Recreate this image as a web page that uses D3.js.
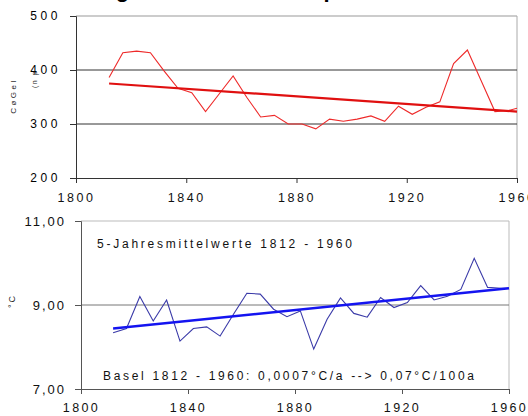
<!DOCTYPE html>
<html><head><meta charset="utf-8">
<script src="https://cdn.jsdelivr.net/npm/d3@7/dist/d3.min.js"></script>
<style>
html,body{margin:0;padding:0;background:#fff;}
svg{display:block;font-family:"Liberation Sans",Arial,sans-serif;}
</style></head>
<body>
<svg id="c" width="528" height="416"></svg>
<script>
// ---- data ----
const years = [1812,1817,1822,1827,1832,1837,1842,1847,1852,1857,1862,1867,1872,1877,1882,1887,1892,1897,1902,1907,1912,1917,1922,1927,1932,1937,1942,1947,1952,1957,1960];
const precip = [386,432,435,432,398,366,358,323,356,389,349,313,316,300,300,291,309,305,309,315,305,333,318,331,341,412,437,380,323,325,329];
const temp = [8.34,8.44,9.20,8.62,9.12,8.14,8.44,8.48,8.26,8.78,9.28,9.26,8.90,8.72,8.86,7.95,8.66,9.17,8.80,8.71,9.18,8.94,9.06,9.46,9.12,9.21,9.37,10.11,9.42,9.40,9.40];
const trendYears = [1812,1960];
const trendPrecip = [375,323];
const trendTemp = [8.44,9.40];
const xTicks = [1800,1840,1880,1920,1960];
const precipTicks = [200,300,400,500];
const tempTicks = [7,9,11];
const titleParts = ["Niederschlag","und","Temperatur"];
const topYLabel = ["CøGel","(n p"];
const bottomYLabel = "°C";
const note1 = "5-Jahresmittelwerte 1812 - 1960";
const note2 = "Basel 1812 - 1960: 0,0007°C/a --> 0,07°C/100a";

const svg = d3.select("#c");

// title (cropped at top, as in the reference)
const title = svg.append("text").attr("y",-3).attr("font-size",22).attr("font-weight","bold").attr("fill","#000");
title.append("tspan").attr("x",-9).text(titleParts[0]);
title.append("tspan").attr("x",180).text(titleParts[1]);
title.append("tspan").attr("x",280).text(titleParts[2]);

// ---------- top chart ----------
const T = {l:76, r:517, t:16, b:178};
const xT = d3.scaleLinear().domain([1800,1960]).range([T.l,T.r]);
const yT = d3.scaleLinear().domain([200,500]).range([T.b,T.t]);
const gT = svg.append("g");

gT.append("line").attr("x1",T.l).attr("x2",T.r).attr("y1",T.t).attr("y2",T.t).attr("stroke","#999");
gT.append("line").attr("x1",T.r).attr("x2",T.r).attr("y1",T.t).attr("y2",T.b).attr("stroke","#aaa");
gT.selectAll(".grid").data([300,400]).join("line")
  .attr("x1",T.l).attr("x2",T.r).attr("y1",d=>yT(d)).attr("y2",d=>yT(d)).attr("stroke","#333");

const axLT = gT.append("g").attr("transform",`translate(${T.l},0)`)
  .call(d3.axisLeft(yT).tickValues(precipTicks).tickSize(6).tickFormat(d=>d));
axLT.select(".domain").attr("stroke","#333");
axLT.selectAll(".tick line").attr("stroke","#333");
axLT.selectAll(".tick text").attr("x",-15).attr("font-size",12).attr("letter-spacing","3.6px").attr("fill","#000").attr("font-family","Liberation Sans, Arial, sans-serif");

const axBT = gT.append("g").attr("transform",`translate(0,${T.b})`)
  .call(d3.axisBottom(xT).tickValues(xTicks).tickSize(5).tickFormat(d=>d));
axBT.select(".domain").attr("stroke","#333");
axBT.selectAll(".tick line").attr("stroke","#333");
axBT.selectAll(".tick text").attr("y",15).attr("font-size",12.5).attr("letter-spacing","2.5px").attr("fill","#111").attr("font-family","Liberation Sans, Arial, sans-serif");

const lineT = d3.line().x((d,i)=>xT(years[i])).y(d=>yT(d));
gT.append("path").datum(precip).attr("d",lineT).attr("fill","none").attr("stroke","#ee2a2a").attr("stroke-width",1.1);
gT.append("path").datum(trendPrecip).attr("d",d3.line().x((d,i)=>xT(trendYears[i])).y(d=>yT(d)))
  .attr("fill","none").attr("stroke","#e01010").attr("stroke-width",2.2);

svg.append("text").attr("transform","translate(16,96) rotate(-90)").attr("text-anchor","middle")
  .attr("font-size",8).attr("letter-spacing","2.5px").attr("fill","#222").text(topYLabel[0]);
svg.append("text").attr("transform","translate(37,79) rotate(-90)").attr("text-anchor","middle")
  .attr("font-size",7).attr("letter-spacing","1.5px").attr("fill","#222").text(topYLabel[1]);

// ---------- bottom chart ----------
const B = {l:81, r:509, t:221, b:389};
const xB = d3.scaleLinear().domain([1800,1960]).range([B.l,B.r]);
const yB = d3.scaleLinear().domain([7,11]).range([B.b,B.t]);
const gB = svg.append("g");

gB.append("line").attr("x1",B.l).attr("x2",B.r).attr("y1",B.t).attr("y2",B.t).attr("stroke","#bbb");
gB.append("line").attr("x1",B.r).attr("x2",B.r).attr("y1",B.t).attr("y2",B.b).attr("stroke","#bbb");
gB.append("line").attr("x1",B.l).attr("x2",B.r).attr("y1",yB(9)).attr("y2",yB(9)).attr("stroke","#777");

const fmt = d=>d3.format(".2f")(d).replace(".",",");
const axLB = gB.append("g").attr("transform",`translate(${B.l},0)`)
  .call(d3.axisLeft(yB).tickValues(tempTicks).tickSize(6).tickFormat(fmt));
axLB.select(".domain").attr("stroke","#555");
axLB.selectAll(".tick line").attr("stroke","#555");
axLB.selectAll(".tick text").attr("x",-15).attr("font-size",13).attr("letter-spacing","2px").attr("fill","#111").attr("font-family","Liberation Sans, Arial, sans-serif");

const axBB = gB.append("g").attr("transform",`translate(0,${B.b})`)
  .call(d3.axisBottom(xB).tickValues(xTicks).tickSize(5).tickFormat(d=>d));
axBB.select(".domain").attr("stroke","#555");
axBB.selectAll(".tick line").attr("stroke","#555");
axBB.selectAll(".tick text").attr("y",14).attr("font-size",12.5).attr("letter-spacing","2.4px").attr("fill","#111").attr("font-family","Liberation Sans, Arial, sans-serif");

const lineB = d3.line().x((d,i)=>xB(years[i])).y(d=>yB(d));
gB.append("path").datum(temp).attr("d",lineB).attr("fill","none").attr("stroke","#3a3aa8").attr("stroke-width",1.1);
gB.append("path").datum(trendTemp).attr("d",d3.line().x((d,i)=>xB(trendYears[i])).y(d=>yB(d)))
  .attr("fill","none").attr("stroke","#1414f0").attr("stroke-width",2.4);

svg.append("text").attr("x",97).attr("y",248).attr("font-size",12).attr("fill","#111")
  .attr("textLength",255).attr("lengthAdjust","spacing").text(note1);
svg.append("text").attr("x",103).attr("y",380).attr("font-size",12).attr("fill","#111")
  .attr("textLength",371).attr("lengthAdjust","spacing").text(note2);
svg.append("text").attr("transform","translate(15,301) rotate(-90)").attr("text-anchor","middle")
  .attr("font-size",9).attr("letter-spacing","2px").attr("fill","#222").text(bottomYLabel);
</script>
</body></html>
